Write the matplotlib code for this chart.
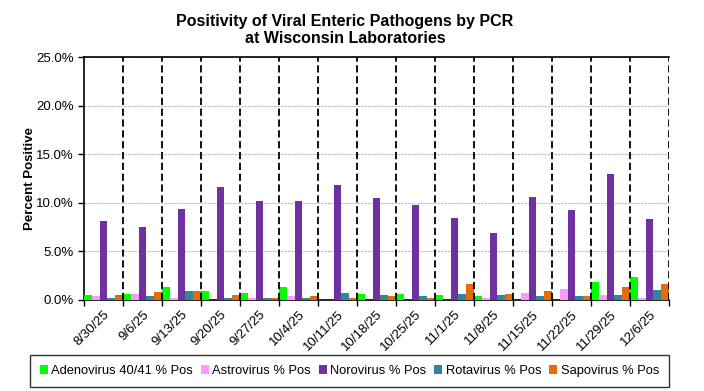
import numpy as np
import matplotlib.pyplot as plt
from matplotlib.ticker import FuncFormatter, FixedLocator

weeks = ["8/30/25", "9/6/25", "9/13/25", "9/20/25", "9/27/25", "10/4/25", "10/11/25",
         "10/18/25", "10/25/25", "11/1/25", "11/8/25", "11/15/25", "11/22/25", "11/29/25", "12/6/25"]

adeno = [0.52, 0.62, 1.34, 0.93, 0.72, 1.34, 0.0, 0.62, 0.62, 0.52, 0.41, 0.0, 0.0, 1.86, 2.37]
astro = [0.41, 0.62, 0.21, 0.0, 0.21, 0.41, 0.0, 0.0, 0.0, 0.0, 0.21, 0.72, 1.13, 0.52, 0.21]
noro = [8.14, 7.53, 9.38, 11.65, 10.2, 10.2, 11.86, 10.5, 9.79, 8.45, 6.9, 10.6, 9.28, 12.99, 8.35]
rota = [0.21, 0.41, 0.93, 0.21, 0.21, 0.21, 0.72, 0.52, 0.41, 0.62, 0.52, 0.41, 0.41, 0.52, 1.03]
sapo = [0.52, 0.82, 0.93, 0.52, 0.21, 0.41, 0.21, 0.41, 0.21, 1.65, 0.62, 0.93, 0.41, 1.34, 1.65]

series = [
    ("Adenovirus 40/41 % Pos", adeno, "#00FF00"),
    ("Astrovirus % Pos", astro, "#FF99FF"),
    ("Norovirus % Pos", noro, "#7030A0"),
    ("Rotavirus % Pos", rota, "#31859C"),
    ("Sapovirus % Pos", sapo, "#E46C0A"),
]

plt.rcParams["font.family"] = ["Liberation Sans", "DejaVu Sans"]

fig = plt.figure(figsize=(7.04, 3.91), dpi=100)
ax = fig.add_axes([84 / 704, 1 - 300 / 391, 585 / 704, 243 / 391])

x = np.arange(len(weeks))
w = 0.2
for k, (name, vals, col) in enumerate(series):
    ax.bar(x + (k - 2) * w, vals, width=w, color=col, label=name, zorder=3)

ax.set_xlim(-0.5, len(weeks) - 0.5)
ax.set_ylim(0, 25)
ax.set_yticks([0, 5, 10, 15, 20, 25])
ax.yaxis.set_major_formatter(FuncFormatter(lambda v, p: f"{v:.1f}%"))
ax.yaxis.grid(True, color="#bbbbbb", linestyle=(0, (2, 1)), linewidth=0.8, zorder=0)

# group separators
for b in np.arange(0.5, len(weeks), 1.0):
    ax.axvline(b, color="black", linestyle=(0, (4, 2)), linewidth=1.3, zorder=4)

ax.xaxis.set_major_locator(FixedLocator(np.arange(-0.5, len(weeks), 1.0)))
ax.xaxis.set_minor_locator(FixedLocator(x))
ax.set_xticklabels([], minor=False)
ax.set_xticklabels(weeks, minor=True, rotation=45, ha="right", va="top",
                   rotation_mode="anchor", fontsize=9.5)
ax.tick_params(axis="x", which="major", length=4, direction="out", width=1)
ax.tick_params(axis="x", which="minor", length=0, pad=6)
ax.tick_params(axis="y", length=4, direction="out", labelsize=9.5, width=1)

for s in ["left", "bottom", "top"]:
    ax.spines[s].set_linewidth(1.2)
ax.spines["right"].set_visible(False)

ax.set_ylabel("Percent Positive", fontsize=9.5, fontweight="bold", labelpad=0)

fig.text(345 / 704, 1 - 14 / 391, "Positivity of Viral Enteric Pathogens by PCR\nat Wisconsin Laboratories",
         ha="center", va="top", fontsize=11.5, fontweight="bold", linespacing=1.15)

leg = fig.legend(loc="center", bbox_to_anchor=(349.5 / 704, 1 - 371 / 391), ncol=5,
                 fontsize=9.3, frameon=True, fancybox=False, handlelength=0.6, handleheight=0.6,
                 handletextpad=0.3, columnspacing=0.6, borderpad=0.75)
leg.get_frame().set_edgecolor("black")
leg.get_frame().set_linewidth(1.0)

fig.savefig("out.png", dpi=100)
